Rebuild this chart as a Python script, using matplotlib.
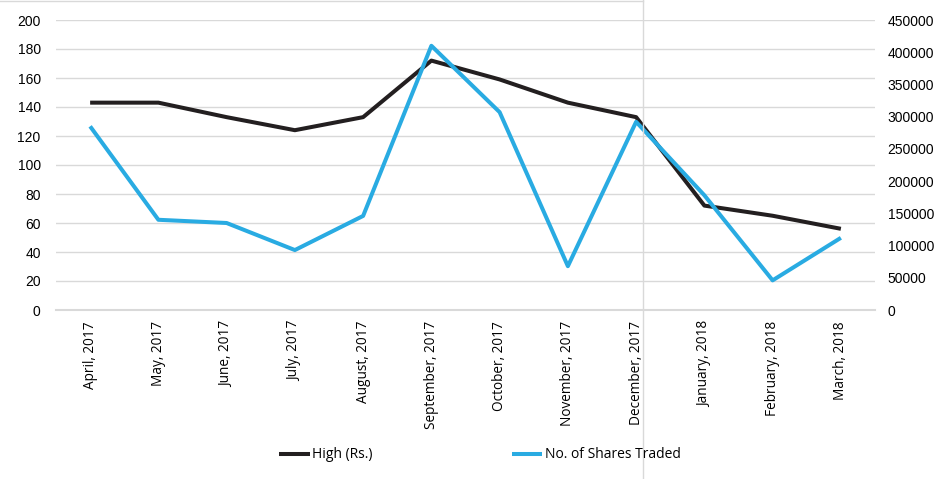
import matplotlib
matplotlib.use("Agg")
import matplotlib.pyplot as plt
from matplotlib.lines import Line2D

months = ["April, 2017", "May, 2017", "June, 2017", "July, 2017", "August, 2017",
          "September, 2017", "October, 2017", "November, 2017", "December, 2017",
          "January, 2018", "February, 2018", "March, 2018"]
high = [143, 143, 133, 124, 133, 172, 159, 143, 133, 72, 65, 56]
shares = [285000, 140000, 135000, 93000, 146000, 410000, 307000, 68000, 292000,
          178000, 46000, 112000]

plt.rcParams['font.family'] = ['Open Sans', 'DejaVu Sans']

fig = plt.figure(figsize=(9.39, 4.79), dpi=100)
ax = fig.add_axes([56/939, 1-310/479, 819/939, 290/479])
ax2 = ax.twinx()

x = list(range(len(months)))
l1, = ax.plot(x, high, color='#231f20', lw=2.9, solid_capstyle='butt', zorder=3)
l2, = ax2.plot(x, shares, color='#29abe2', lw=2.9, solid_capstyle='butt', zorder=3)

ax.set_xlim(-0.5, len(months) - 0.5)
ax.set_ylim(0, 200)
ax.set_yticks(range(0, 201, 20))
ax2.set_ylim(0, 450000)
ax2.set_yticks(range(0, 450001, 50000))
ax.grid(axis='y', color='#d9d9d9', lw=1)
ax.set_axisbelow(True)

ax.set_xticks(x)
ax.set_xticklabels(months, rotation=90, fontsize=9.8)
ax.tick_params(axis='x', length=0, pad=8)
ax.tick_params(axis='y', length=0, pad=11)
ax2.tick_params(axis='y', length=0, pad=9)
for lab in ax.get_yticklabels() + ax2.get_yticklabels():
    lab.set_fontfamily(['Liberation Sans', 'DejaVu Sans'])
    lab.set_fontsize(10)
for a in (ax, ax2):
    for s in a.spines.values():
        s.set_visible(False)
ax.spines['bottom'].set_visible(True)
ax.spines['bottom'].set_color('#d9d9d9')
ax.spines['bottom'].set_linewidth(1.5)

fig.legend([l1, l2], ["High (Rs.)", "No. of Shares Traded"], loc='center',
           bbox_to_anchor=(480/939, 1-455/479), ncol=2, frameon=False,
           fontsize=10, handlelength=2.2, columnspacing=10, handletextpad=0.2)

# faint border fragment from the original screenshot
fig.add_artist(Line2D([643/939, 643/939], [0, 1], color='#d9d9d9', lw=1))
fig.add_artist(Line2D([0, 643/939], [1-1/479, 1-1/479], color='#d9d9d9', lw=1))

fig.savefig("out.png", dpi=100)
